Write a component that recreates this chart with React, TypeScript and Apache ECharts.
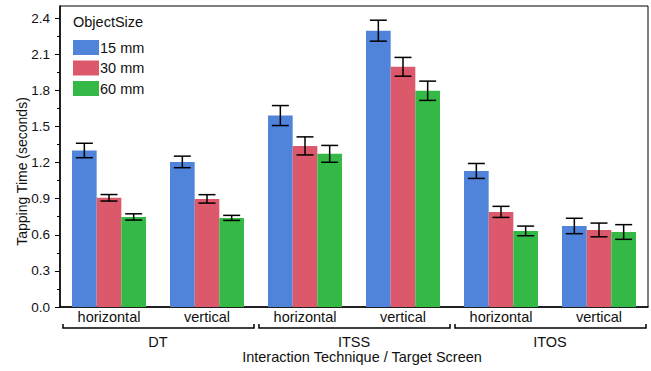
import React, { useEffect, useRef } from 'react';
import * as echarts from 'echarts';

const categories = ['horizontal', 'vertical', 'horizontal', 'vertical', 'horizontal', 'vertical'];
const groups = ['DT', 'ITSS', 'ITOS'];
const seriesNames = ['15 mm', '30 mm', '60 mm'];
const mm15 = [1.3, 1.205, 1.59, 2.295, 1.13, 0.673];
const mm30 = [0.907, 0.898, 1.338, 1.995, 0.79, 0.64];
const mm60 = [0.748, 0.74, 1.272, 1.796, 0.632, 0.623];
const err15 = [0.06, 0.048, 0.083, 0.087, 0.062, 0.064];
const err30 = [0.027, 0.035, 0.075, 0.078, 0.046, 0.057];
const err60 = [0.026, 0.021, 0.07, 0.08, 0.04, 0.061];
const yTickValues = [0, 0.3, 0.6, 0.9, 1.2, 1.5, 1.8, 2.1, 2.4];
const yMinorTickValues = [0.15, 0.45, 0.75, 1.05, 1.35, 1.65, 1.95, 2.25];
const yMin = 0;
const yMax = 2.5;

const colors = ['#5083DA', '#DB596A', '#35B946'];
const GAP = 0.245;
const FONT = '"Liberation Sans", Arial, Helvetica, sans-serif';
const FS = 14.5;

const makeErr = (s: number, values: number[], errs: number[]) => ({
  type: 'custom',
  xAxisIndex: 0,
  yAxisIndex: 0,
  clip: false,
  z: 10,
  silent: true,
  data: values.map((v, i) => [i, v, errs[i]]),
  encode: { x: 0, y: 1 },
  renderItem: (params: any, api: any) => {
    const i = api.value(0);
    const v = api.value(1);
    const e = api.value(2);
    const bw = api.size([1, 0])[0];
    const barW = (bw * (1 - GAP)) / 3;
    const top = api.coord([i, v + e]);
    const bot = api.coord([i, v - e]);
    const cx = top[0] + (s - 1) * barW;
    const hw = 8.5;
    const style = { stroke: '#000', lineWidth: 1.5 };
    return {
      type: 'group',
      children: [
        { type: 'line', shape: { x1: cx, y1: top[1], x2: cx, y2: bot[1] }, style },
        { type: 'line', shape: { x1: cx - hw, y1: top[1], x2: cx + hw, y2: top[1] }, style },
        { type: 'line', shape: { x1: cx - hw, y1: bot[1], x2: cx + hw, y2: bot[1] }, style },
      ],
    };
  },
});

export default function App() {
  const ref = useRef<HTMLDivElement>(null);
  useEffect(() => {
    document.body.style.margin = '0';
    const chart = echarts.init(ref.current!, null, { renderer: 'svg' });
    const values = [mm15, mm30, mm60];
    const errs = [err15, err30, err60];
    const option: any = {
      animation: false,
      textStyle: { fontFamily: FONT, color: '#111' },
      grid: {
        left: 60,
        right: 3,
        top: 6,
        bottom: 64,
        show: true,
        borderColor: '#000',
        borderWidth: 1,
        backgroundColor: 'transparent',
      },
      legend: {
        data: seriesNames,
        orient: 'vertical',
        left: 73,
        top: 40,
        padding: 0,
        itemWidth: 26,
        itemHeight: 15,
        itemGap: 5.5,
        icon: 'rect',
        textStyle: { fontSize: FS, color: '#111', fontFamily: FONT, padding: [0, 0, 0, -4] },
      },
      graphic: [
        {
          type: 'text',
          x: 73,
          y: 22,
          style: { text: 'ObjectSize', fontSize: FS, fill: '#111', fontFamily: FONT, verticalAlign: 'middle' },
        },
        {
          type: 'text',
          x: 362,
          y: 357,
          style: {
            text: 'Interaction Technique / Target Screen',
            fontSize: FS,
            fill: '#111',
            fontFamily: FONT,
            align: 'center',
            verticalAlign: 'middle',
          },
        },
        {
          type: 'text',
          x: 21.5,
          y: 171.5,
          rotation: Math.PI / 2,
          style: {
            text: 'Tapping Time (seconds)',
            fontSize: 14,
            fill: '#111',
            fontFamily: FONT,
            align: 'center',
            verticalAlign: 'middle',
          },
        },
      ],
      xAxis: [
        {
          type: 'category',
          data: categories,
          position: 'bottom',
          axisLine: { show: true, lineStyle: { color: '#000', width: 1.5 } },
          axisTick: { show: false },
          axisLabel: { fontSize: FS, color: '#111', margin: 2, interval: 0, fontFamily: FONT },
          splitLine: { show: false },
        },
        {
          type: 'category',
          data: groups,
          position: 'bottom',
          axisLine: { show: false },
          axisTick: { show: false },
          axisLabel: { fontSize: FS, color: '#111', margin: 27, interval: 0, fontFamily: FONT },
          splitLine: { show: false },
        },
      ],
      yAxis: [
        {
          type: 'value',
          min: yMin,
          max: yMax,
          interval: 0.3,
          axisLine: { show: true, lineStyle: { color: '#000', width: 1.5 } },
          axisTick: { show: true, length: 5, lineStyle: { color: '#000', width: 1 }, customValues: yTickValues },
          axisLabel: {
            fontSize: 13.5,
            color: '#111',
            margin: 10,
            fontFamily: FONT,
            customValues: yTickValues,
            formatter: (v: number) => v.toFixed(1),
          },
          splitLine: { show: false },
        },
        {
          type: 'value',
          min: yMin,
          max: yMax,
          position: 'left',
          axisLine: { show: false },
          axisTick: { show: true, length: 3, lineStyle: { color: '#000', width: 1 }, customValues: yMinorTickValues },
          axisLabel: { show: false },
          splitLine: { show: false },
        },
      ],
      series: [
        ...values.map((d, s) => ({
          type: 'bar',
          name: seriesNames[s],
          data: d,
          xAxisIndex: 0,
          yAxisIndex: 0,
          barGap: '0%',
          barCategoryGap: GAP * 100 + '%',
          itemStyle: { color: colors[s] },
          silent: true,
        })),
        ...values.map((d, s) => makeErr(s, d, errs[s])),
        {
          type: 'custom',
          xAxisIndex: 1,
          yAxisIndex: 0,
          clip: false,
          silent: true,
          data: groups.map((g, i) => [i, 0]),
          encode: { x: 0, y: 1 },
          renderItem: (params: any, api: any) => {
            const c = api.coord([api.value(0), 0]);
            const w = api.size([1, 0])[0];
            const y = c[1] + 21;
            const x0 = c[0] - w / 2 + 3;
            const x1 = c[0] + w / 2 - 2;
            return {
              type: 'polyline',
              shape: { points: [[x0, y - 4], [x0, y], [x1, y], [x1, y - 4]] },
              style: { stroke: '#000', lineWidth: 1.5, fill: 'none' },
            };
          },
        },
      ],
    };
    chart.setOption(option);
    return () => chart.dispose();
  }, []);
  return (
    <div
      ref={ref}
      style={{ position: 'fixed', left: 0, top: 0, width: 651, height: 371, background: '#fff' }}
    />
  );
}
